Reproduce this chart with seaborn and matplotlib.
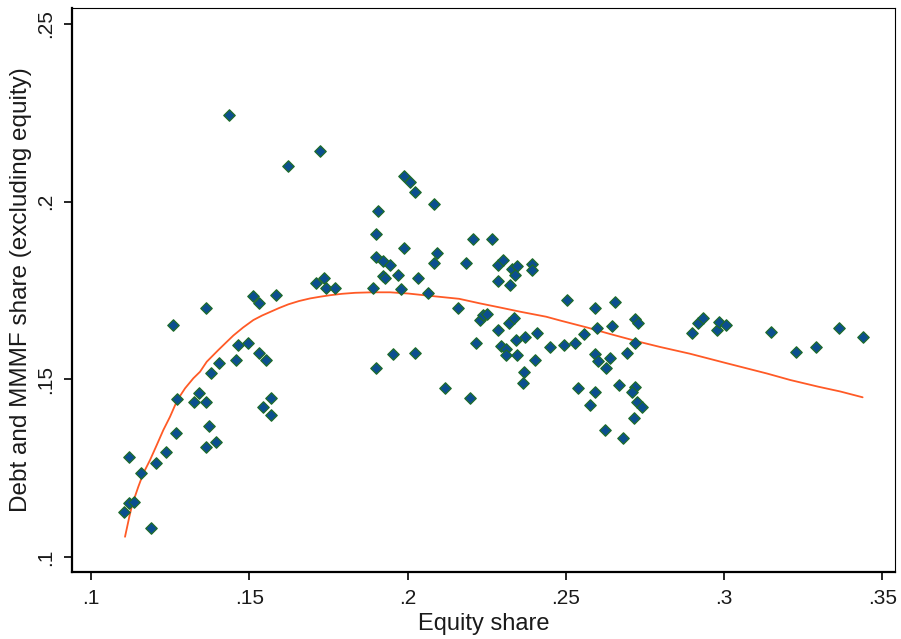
import matplotlib
matplotlib.use("Agg")
import matplotlib.pyplot as plt
import seaborn as sns
import pandas as pd

equity_share = [
    0.1105, 0.1121, 0.1137, 0.1189, 0.1121, 0.1157, 0.1205, 0.1237, 0.1269, 0.1273,
    0.1258, 0.1326, 0.1342, 0.1363, 0.1374, 0.1363, 0.1395, 0.1379, 0.1405, 0.1363,
    0.1458, 0.1464, 0.1495, 0.1511, 0.1532, 0.1585, 0.1532, 0.1554, 0.1569, 0.1543,
    0.1569, 0.1437, 0.1622, 0.1722, 0.1711, 0.1737, 0.1743, 0.1771, 0.1890, 0.1901,
    0.1922, 0.1945, 0.1924, 0.1929, 0.1969, 0.1980, 0.2033, 0.2064, 0.2085, 0.2093,
    0.1990, 0.1901, 0.1906, 0.1990, 0.2008, 0.2024, 0.2085, 0.2208, 0.2266, 0.2185,
    0.2285, 0.2301, 0.2330, 0.2345, 0.2340, 0.2393, 0.2393, 0.2285, 0.2324, 0.2159,
    0.2229, 0.2238, 0.2251, 0.2322, 0.2335, 0.2285, 0.2409, 0.2372, 0.2343, 0.2217,
    0.2296, 0.2312, 0.2312, 0.2345, 0.2403, 0.2369, 0.2364, 0.2451, 0.2493, 0.2530,
    0.2556, 0.2503, 0.2593, 0.2656, 0.2598, 0.2646, 0.2719, 0.2727, 0.2719, 0.2693,
    0.2593, 0.2603, 0.2640, 0.2627, 0.2540, 0.2593, 0.2577, 0.2667, 0.2719, 0.2709,
    0.2725, 0.2742, 0.2714, 0.2625, 0.2682, 0.2899, 0.2919, 0.2935, 0.2978, 0.2983,
    0.3006, 0.3148, 0.3227, 0.3290, 0.3362, 0.3438, 0.2119, 0.2198, 0.1901, 0.1954,
    0.2024,
]
debt_share = [
    0.1128, 0.1151, 0.1156, 0.1081, 0.1282, 0.1236, 0.1264, 0.1296, 0.1348, 0.1444,
    0.1654, 0.1437, 0.1463, 0.1437, 0.1368, 0.1310, 0.1324, 0.1517, 0.1545, 0.1700,
    0.1555, 0.1598, 0.1602, 0.1735, 0.1714, 0.1738, 0.1574, 0.1555, 0.1448, 0.1423,
    0.1400, 0.2245, 0.2100, 0.2142, 0.1772, 0.1786, 0.1756, 0.1756, 0.1756, 0.1843,
    0.1832, 0.1822, 0.1791, 0.1785, 0.1794, 0.1754, 0.1786, 0.1744, 0.1827, 0.1857,
    0.1869, 0.1908, 0.1974, 0.2073, 0.2056, 0.2026, 0.1993, 0.1894, 0.1894, 0.1828,
    0.1822, 0.1836, 0.1810, 0.1819, 0.1794, 0.1824, 0.1808, 0.1777, 0.1766, 0.1702,
    0.1667, 0.1681, 0.1684, 0.1658, 0.1672, 0.1639, 0.1631, 0.1620, 0.1611, 0.1603,
    0.1595, 0.1585, 0.1569, 0.1569, 0.1555, 0.1522, 0.1489, 0.1592, 0.1597, 0.1603,
    0.1627, 0.1723, 0.1700, 0.1719, 0.1645, 0.1650, 0.1669, 0.1660, 0.1602, 0.1573,
    0.1571, 0.1552, 0.1559, 0.1531, 0.1477, 0.1465, 0.1428, 0.1484, 0.1479, 0.1465,
    0.1437, 0.1423, 0.1391, 0.1357, 0.1334, 0.1630, 0.1658, 0.1674, 0.1639, 0.1661,
    0.1653, 0.1634, 0.1578, 0.1592, 0.1644, 0.1620, 0.1475, 0.1447, 0.1533, 0.1571,
    0.1575,
]

fit_x = [0.11075, 0.11211, 0.11286, 0.11369, 0.11495, 0.11653, 0.11865, 0.12077, 0.12285,
         0.12497, 0.12728, 0.12971, 0.13233, 0.13445, 0.13657, 0.14023, 0.14267, 0.14497,
         0.14804, 0.15130, 0.15405, 0.15657, 0.15942, 0.16236, 0.16574, 0.16922, 0.17238,
         0.17554, 0.17933, 0.18344, 0.18881, 0.19450, 0.20019, 0.20610, 0.21631, 0.22279,
         0.22927, 0.23559, 0.24381, 0.24823, 0.25677, 0.26403, 0.27304, 0.27984, 0.28922,
         0.30057, 0.31356, 0.32092, 0.32977, 0.33673, 0.34377]
fit_y = [0.10571, 0.11134, 0.11416, 0.11652, 0.11979, 0.12356, 0.12730, 0.13152, 0.13574,
         0.13949, 0.14419, 0.14748, 0.15030, 0.15215, 0.15497, 0.15826, 0.16037, 0.16234,
         0.16459, 0.16670, 0.16797, 0.16896, 0.17008, 0.17112, 0.17205, 0.17278, 0.17326,
         0.17368, 0.17408, 0.17436, 0.17450, 0.17450, 0.17416, 0.17360, 0.17267, 0.17140,
         0.17022, 0.16904, 0.16763, 0.16656, 0.16459, 0.16276, 0.16060, 0.15911, 0.15722,
         0.15460, 0.15165, 0.14982, 0.14794, 0.14659, 0.14496]

x_ticks = [0.1, 0.15, 0.2, 0.25, 0.3, 0.35]
x_tick_labels = [".1", ".15", ".2", ".25", ".3", ".35"]
y_ticks = [0.1, 0.15, 0.2, 0.25]
y_tick_labels = [".1", ".15", ".2", ".25"]

sns.set_theme(style="white")
plt.rcParams['font.family'] = ['Liberation Sans', 'DejaVu Sans']

pts = pd.DataFrame({"Equity share": equity_share, "Debt": debt_share})
fit = pd.DataFrame({"x": fit_x, "y": fit_y})

fig = plt.figure(figsize=(9.01, 6.39), dpi=100)
ax = fig.add_axes([72 / 901, 1 - 572 / 639, (895 - 72) / 901, (572 - 8) / 639])

sns.scatterplot(data=pts, x="Equity share", y="Debt", ax=ax, marker="D", s=34,
                color="#0b4f8f", edgecolor="#1f6b2a", linewidth=0.9, zorder=3)
sns.lineplot(data=fit, x="x", y="y", ax=ax, color="#ff5a26", linewidth=1.3,
             sort=False, estimator=None, zorder=2)

ax.set_xlim(0.094, 0.354)
ax.set_ylim(0.0958, 0.2545)
ax.set_xticks(x_ticks)
ax.set_xticklabels(x_tick_labels)
ax.set_yticks(y_ticks)
ax.set_yticklabels(y_tick_labels, rotation=90, va="center")
ax.tick_params(axis="both", direction="out", length=6, width=1.2, color="black",
               labelsize=15, labelcolor="#1a1a1a", pad=6)
ax.tick_params(axis="both", which="both", bottom=True, left=True)
for side in ["left", "bottom", "right", "top"]:
    ax.spines[side].set_color("black")
ax.spines["left"].set_linewidth(1.6)
ax.spines["bottom"].set_linewidth(1.6)
ax.spines["right"].set_linewidth(0.8)
ax.spines["top"].set_linewidth(0.8)

ax.set_xlabel("Equity share", fontsize=17, color="#1a1a1a", labelpad=4)
ax.set_ylabel("Debt and MMMF share (excluding equity)", fontsize=17.5, color="#1a1a1a", labelpad=3)

fig.savefig("out.png", dpi=100)
